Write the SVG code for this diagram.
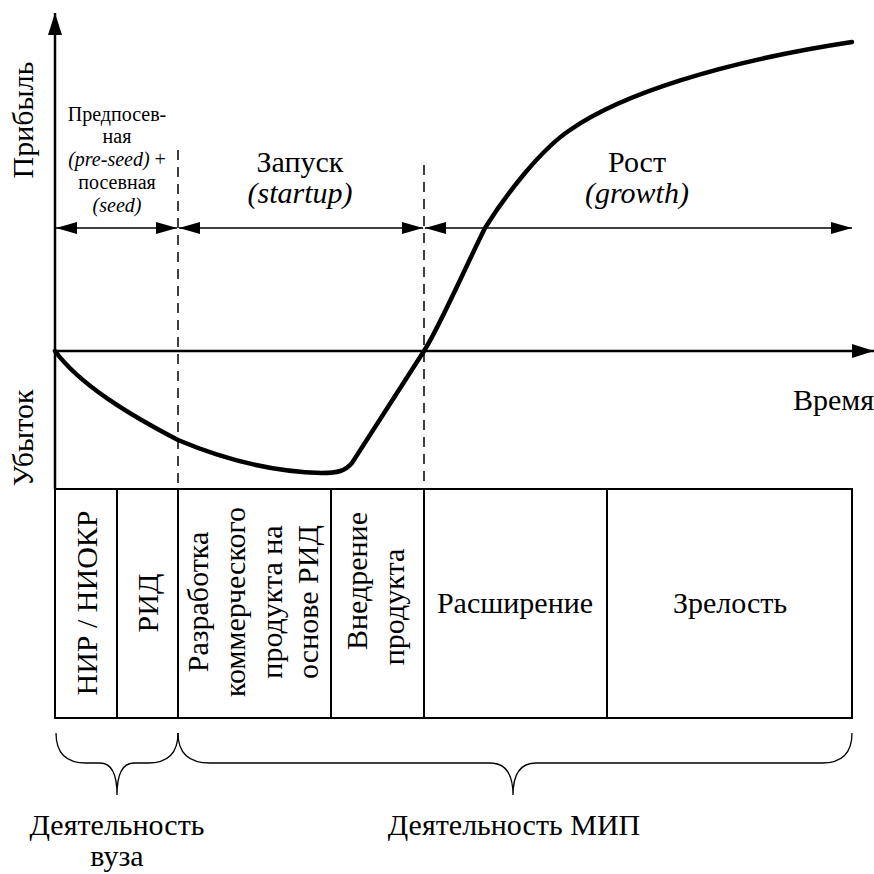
<svg xmlns="http://www.w3.org/2000/svg" width="874" height="874" viewBox="0 0 874 874">
<style>
text{font-family:'Liberation Serif','Liberation Sans',Arial,sans-serif;fill:#000}
.l{font-size:30px}
.s{font-size:20px}
.m{text-anchor:middle}
.i{font-style:italic}
.ax{stroke:#000;stroke-width:2.5;fill:none}
.dim{stroke:#000;stroke-width:1.5;fill:none}
.dash{stroke:#000;stroke-width:1.5;stroke-dasharray:10 7;fill:none}
.cell{stroke:#000;stroke-width:2;fill:none}
.brace{stroke:#000;stroke-width:1.3;fill:none}
.curve{stroke:#000;stroke-width:4.5;fill:none;stroke-linecap:round}
</style>
<defs>
<marker id="ah" viewBox="0 0 21 12" refX="21" refY="6" markerWidth="21" markerHeight="12" markerUnits="userSpaceOnUse" orient="auto-start-reverse"><path d="M0,0 L21,6 L0,12 z" fill="#000"/></marker>
<marker id="axh" viewBox="0 0 22 14" refX="22" refY="7" markerWidth="22" markerHeight="14" markerUnits="userSpaceOnUse" orient="auto"><path d="M0,0 L22,7 L0,14 z" fill="#000"/></marker>
</defs>
<rect width="874" height="874" fill="#fff"/>
<g id="connectors">
<line class="ax" x1="55" y1="489" x2="55" y2="13" marker-end="url(#axh)"/>
<line class="ax" x1="55" y1="351" x2="874" y2="351" marker-end="url(#axh)"/>
<line class="dash" x1="178" y1="150" x2="178" y2="489"/>
<line class="dash" x1="424" y1="165" x2="424" y2="489"/>
<line class="dim" x1="56" y1="228" x2="177" y2="228" marker-start="url(#ah)" marker-end="url(#ah)"/>
<line class="dim" x1="179" y1="228" x2="423" y2="228" marker-start="url(#ah)" marker-end="url(#ah)"/>
<line class="dim" x1="425" y1="228" x2="852" y2="228" marker-start="url(#ah)" marker-end="url(#ah)"/>
<path class="curve" d="M55,351 C80,385 130,415 178,440 C230,462 280,472 322,473 C338,473 345,471 352,463 L424,351 C439,328 465,268 485,228 C505,196 540,150 570,130 C620,95 720,62 852,42"/>
<path class="brace" d="M56,733 Q56,763 86,763 L100,763 Q117,763 117,795 Q117,763 134,763 L148,763 Q178,763 178,733"/>
<path class="brace" d="M178,733 Q178,763 210,763 L490,763 Q513,763 513,795 Q513,763 536,763 L822,763 Q852,763 852,733"/>
</g>
<g id="axis-labels">
<text class="l m" transform="translate(33,120) rotate(-90)">Прибыль</text>
<text class="l m" transform="translate(33,438) rotate(-90)">Убыток</text>
<text class="l" x="874" y="410" text-anchor="end">Время</text>
</g>
<g id="stage-preseed">
<text class="s m" x="117" y="121">Предпосев-</text>
<text class="s m" x="117" y="143">ная</text>
<text class="s m" x="117" y="166"><tspan class="i">(pre-seed)</tspan> +</text>
<text class="s m" x="117" y="189">посевная</text>
<text class="s m i" x="117" y="212">(seed)</text>
</g>
<g id="stage-startup">
<text class="l m" x="300" y="172">Запуск</text>
<text class="l m i" x="300" y="203">(startup)</text>
</g>
<g id="stage-growth">
<text class="l m" x="637" y="172">Рост</text>
<text class="l m i" x="637" y="203">(growth)</text>
</g>
<g id="table">
<rect class="cell" x="55" y="489" width="797" height="229"/>
<line class="cell" x1="117" y1="489" x2="117" y2="718"/>
<line class="cell" x1="178" y1="489" x2="178" y2="718"/>
<line class="cell" x1="331" y1="489" x2="331" y2="718"/>
<line class="cell" x1="424" y1="489" x2="424" y2="718"/>
<line class="cell" x1="607" y1="489" x2="607" y2="718"/>
</g>
<g id="cell-nir">
<text class="l m" transform="translate(97,603) rotate(-90)">НИР / НИОКР</text>
</g>
<g id="cell-rid">
<text class="l m" transform="translate(158,603) rotate(-90)">РИД</text>
</g>
<g id="cell-dev">
<text class="l m" transform="translate(208,602) rotate(-90)">Разработка</text>
<text class="l m" transform="translate(245,602) rotate(-90)">коммерческого</text>
<text class="l m" transform="translate(282,602) rotate(-90)">продукта на</text>
<text class="l m" transform="translate(318,602) rotate(-90)">основе РИД</text>
</g>
<g id="cell-impl">
<text class="l m" transform="translate(367,581) rotate(-90)">Внедрение</text>
<text class="l m" transform="translate(404,607) rotate(-90)">продукта</text>
</g>
<g id="cell-expansion">
<text class="l m" x="515" y="613">Расширение</text>
</g>
<g id="cell-maturity">
<text class="l m" x="730" y="613">Зрелость</text>
</g>
<g id="brace-labels">
<text class="l m" x="117" y="835">Деятельность</text>
<text class="l m" x="117" y="866">вуза</text>
<text class="l m" x="514" y="835">Деятельность МИП</text>
</g>
</svg>
